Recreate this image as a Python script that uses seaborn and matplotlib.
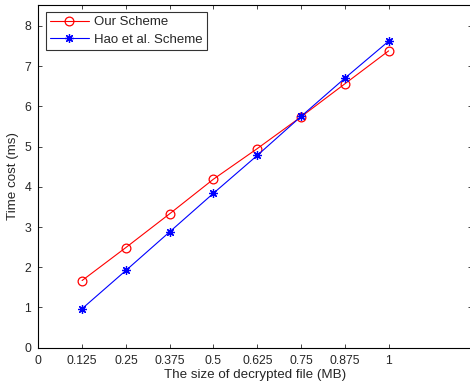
import matplotlib
matplotlib.use("Agg")
import matplotlib.pyplot as plt
import seaborn as sns
import pandas as pd

sizes = [0.125, 0.25, 0.375, 0.5, 0.625, 0.75, 0.875, 1.0]
our_scheme = [1.67, 2.49, 3.33, 4.19, 4.95, 5.74, 6.56, 7.38]
hao_scheme = [0.97, 1.92, 2.88, 3.84, 4.78, 5.75, 6.70, 7.62]
xticks = [0, 0.125, 0.25, 0.375, 0.5, 0.625, 0.75, 0.875, 1]
xticklabels = ["0", "0.125", "0.25", "0.375", "0.5", "0.625", "0.75", "0.875", "1"]
yticks = [0, 1, 2, 3, 4, 5, 6, 7, 8]

sns.set_style("ticks")
plt.rcParams['font.family'] = ['Liberation Sans', 'DejaVu Sans']

df = pd.DataFrame({"size": sizes, "Our Scheme": our_scheme, "Hao et al. Scheme": hao_scheme})

fig = plt.figure(figsize=(4.70, 3.87), dpi=100)
ax = fig.add_axes([38.3/470, 1-347.7/387, (472-38.3)/470, (347.7-5)/387])

sns.lineplot(data=df, x="size", y="Our Scheme", ax=ax, color="#ff0000", marker="o",
             markersize=6.3, markerfacecolor="none", markeredgecolor="#ff0000",
             markeredgewidth=0.9, linewidth=0.8, label="Our Scheme")
sns.lineplot(data=df, x="size", y="Hao et al. Scheme", ax=ax, color="#0000ff", marker=(8, 2, 0),
             markersize=6.3, markerfacecolor="#0000ff", markeredgecolor="#0000ff",
             markeredgewidth=0.9, linewidth=0.8, label="Hao et al. Scheme")

ax.set_xlim(0, 1.238)
ax.set_ylim(0, 8.52)
ax.set_xticks(xticks)
ax.set_xticklabels(xticklabels)
ax.set_yticks(yticks)
ax.tick_params(direction="in", length=3, width=0.6, labelsize=8.8, top=True, right=True,
               pad=5)
for s in ax.spines.values():
    s.set_linewidth(0.8)
    s.set_color("black")
ax.set_xlabel("The size of decrypted file (MB)", fontsize=9.6, labelpad=2)
ax.set_ylabel("Time cost (ms)", fontsize=9.6, labelpad=4)

leg = ax.legend(loc="upper left", fontsize=9.5, frameon=True, fancybox=False,
                edgecolor="black", borderaxespad=0.55, handlelength=3.0,
                borderpad=0.3, labelspacing=0.4, handletextpad=0.4)
leg.get_frame().set_linewidth(0.8)

fig.savefig("out.png", dpi=100)
